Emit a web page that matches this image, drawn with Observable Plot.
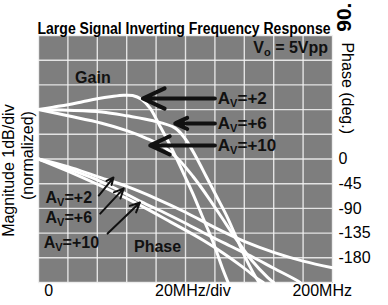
<!DOCTYPE html>
<html><head><meta charset="utf-8">
<script src="https://cdn.jsdelivr.net/npm/d3@7"></script>
<script src="https://cdn.jsdelivr.net/npm/@observablehq/plot@0.6"></script>
<style>body{margin:0;background:#fff}</style>
</head><body><div id="chart"></div>
<script>
// ---- data ----
const title = "Large Signal Inverting Frequency Response";
const xGrid = [0, 20, 40, 60, 80, 100, 120, 140, 160, 180, 200];      // MHz
const yGrid = [-7, -6, -5, -4, -3, -2, -1, 0, 1, 2, 3];               // dB (1dB/div)
const phaseTicks = [0, -45, -90, -135, -180];                          // deg
const xLabels = [{x: 7, t: "0"}, {x: 105, t: "20MHz/div"}, {x: 193, t: "200MHz"}];

// gain (normalized dB) vs frequency (MHz)
const gainAv2 = [[0,0],[10,0.1],[20,0.2],[30,0.32],[40,0.44],[50,0.53],[58,0.58],[64,0.57],[70,0.42],[76,0.05],[82,-0.6],[90,-1.5],[98,-2.5],[105,-3.4],[112,-4.4],[119,-5.4],[125,-6.4],[129,-7]];
const gainAv6 = [[0,0],[20,-0.03],[43,-0.1],[60,-0.25],[78,-0.45],[93,-0.75],[100,-1.2],[107,-1.9],[114,-2.7],[121,-3.5],[128,-4.3],[134,-5.1],[140,-5.9],[146,-6.6],[150,-7]];
const gainAv10 = [[0,0],[20,-0.25],[43,-0.55],[60,-0.85],[73,-1.15],[85,-1.5],[95,-2.0],[105,-2.7],[116,-3.6],[125,-4.4],[134,-5.2],[145,-6.1],[156,-6.8],[160,-7]];

// phase (deg) vs frequency (MHz)
const phaseAv2 = [[0,0],[20,-14],[40,-32],[60,-50],[80,-72],[100,-97],[120,-125],[140,-150],[160,-170],[180,-186],[200,-198]];
const phaseAv6 = [[0,0],[20,-18],[40,-38],[54,-56],[70,-78],[85,-97],[100,-117],[115,-138],[130,-158],[146,-179],[160,-199],[175,-220],[178,-225]];
const phaseAv10 = [[0,0],[20,-22],[40,-46],[66,-80],[90,-115],[112,-148],[126,-172],[139,-197],[150,-220],[153,-225]];

// annotations (data units: MHz, dB)
const gainNotes = [{t: "Av=+2", x1: 120, x2: 71, y: 0.45}, {t: "Av=+6", x1: 120, x2: 93, y: -0.56}, {t: "Av=+10", x1: 120, x2: 76, y: -1.45}];
const phaseNotes = [{t: "Av=+2", lx: 4.8, ly: -3.56, x1: 41, y1: -3.48, x2: 51, y2: -2.75},
                    {t: "Av=+6", lx: 4.8, ly: -4.37, x1: 42, y1: -4.21, x2: 58, y2: -3.19},
                    {t: "Av=+10", lx: 3.5, ly: -5.38, x1: 47, y1: -5.02, x2: 69, y2: -3.76}];
const wordNotes = [{t: "Gain", x: 37, y: 1.3}, {t: "Phase", x: 81, y: -5.54}];
const condNote = [{t: "Vo = 5Vpp", x: 197, y: 2.51}];
const sideNotes = [
  {t: "Magnitude 1dB/div", x: -20.2, y: -2.47, r: -90, a: "middle", w: "normal", s: 16},
  {t: "(normalized)", x: -7.2, y: -1.86, r: -90, a: "middle", w: "normal", s: 16},
  {t: "Phase (deg.)", x: 210, y: 2.72, r: 90, a: "start", w: "normal", s: 16},
  {t: "90.", x: 208, y: 3.15, r: -90, a: "start", w: "bold", s: 21}
];

// ---- build ----
const phaseToY = p => p / 45 - 2;
const rows = [];
for (const [name, arr] of [["g2", gainAv2], ["g6", gainAv6], ["g10", gainAv10]]) for (const [f, v] of arr) rows.push({s: name, f, v});
for (const [name, arr] of [["p2", phaseAv2], ["p6", phaseAv6], ["p10", phaseAv10]]) for (const [f, v] of arr) rows.push({s: name, f, v: phaseToY(v)});

const FONT = "Liberation Sans, Arial, Helvetica, sans-serif";
const INK = "#111";

const chart = Plot.plot({
  width: 388, height: 305,
  marginLeft: 38, marginRight: 56, marginTop: 35, marginBottom: 23,
  style: {fontFamily: FONT, fontSize: "16px", background: "#fff", overflow: "visible"},
  x: {domain: [0, 200], axis: null},
  y: {domain: [-7, 3]},
  marks: [
    Plot.frame({fill: "#7e7e7e", stroke: "#c8c8c8", strokeDasharray: "1,1"}),
    Plot.ruleX(xGrid, {stroke: "#f4f4f4", strokeWidth: 1.4, strokeOpacity: 0.85}),
    Plot.ruleY(yGrid, {stroke: "#f4f4f4", strokeWidth: 1.4, strokeOpacity: 0.85}),
    Plot.line(rows, {x: "f", y: "v", z: "s", stroke: "#fff", strokeWidth: 3, curve: "catmull-rom"}),
    Plot.arrow(gainNotes, {x1: "x1", x2: "x2", y1: "y", y2: "y", stroke: INK, strokeWidth: 4, headLength: 12, headAngle: 50}),
    Plot.text(gainNotes, {x: () => 122, y: "y", text: "t", textAnchor: "start", fill: INK, fontWeight: "bold", fontSize: 17}),
    Plot.arrow(phaseNotes, {x1: "x1", y1: "y1", x2: "x2", y2: "y2", stroke: INK, strokeWidth: 2, headLength: 8, headAngle: 50}),
    Plot.text(phaseNotes, {x: "lx", y: "ly", text: "t", textAnchor: "start", fill: INK, fontWeight: "bold", fontSize: 16}),
    Plot.text(wordNotes, {x: "x", y: "y", text: "t", fill: INK, fontWeight: "bold", fontSize: 16}),
    Plot.text(condNote, {x: "x", y: "y", text: "t", textAnchor: "end", fill: INK, fontWeight: "bold", fontSize: 16}),
    Plot.axisY(phaseTicks.map(phaseToY), {anchor: "right", tickSize: 0, tickPadding: 6, label: null, fontSize: 16,
      tickFormat: d => String(Math.round((d + 2) * 45))}),
    Plot.text(xLabels, {x: "x", text: "t", frameAnchor: "bottom", dy: 13, fill: "#000", fontSize: 16}),
    Plot.text([title], {frameAnchor: "top", dx: -1.5, dy: -13, fontWeight: "bold", fontSize: 16, fill: "#000",
      fontFamily: "Liberation Sans Narrow, Liberation Sans, Arial, sans-serif"}),
    ...sideNotes.map(d => Plot.text([d], {x: "x", y: "y", text: "t", rotate: d.r, textAnchor: d.a,
      fontWeight: d.w, fontSize: d.s, fill: "#000"}))
  ]
});

// subscripts and title fitting
chart.querySelectorAll("text").forEach(t => {
  const s = t.textContent;
  const sub = (base, subTxt, rest) => {
    t.textContent = "";
    const ns = "http://www.w3.org/2000/svg";
    const a = document.createElementNS(ns, "tspan"); a.textContent = base; t.appendChild(a);
    const b = document.createElementNS(ns, "tspan"); b.textContent = subTxt; b.setAttribute("dy", "3"); b.setAttribute("font-size", "11"); t.appendChild(b);
    const c = document.createElementNS(ns, "tspan"); c.textContent = rest; c.setAttribute("dy", "-3"); t.appendChild(c);
  };
  let m;
  if ((m = s.match(/^Av(=.*)$/))) sub("A", "V", m[1]);
  else if (s === "Vo = 5Vpp") sub("V", "o", " = 5Vpp");
  else if (s === title) { t.setAttribute("textLength", "293"); t.setAttribute("lengthAdjust", "spacingAndGlyphs"); }
});
document.getElementById("chart").appendChild(chart);
</script>
</body></html>
